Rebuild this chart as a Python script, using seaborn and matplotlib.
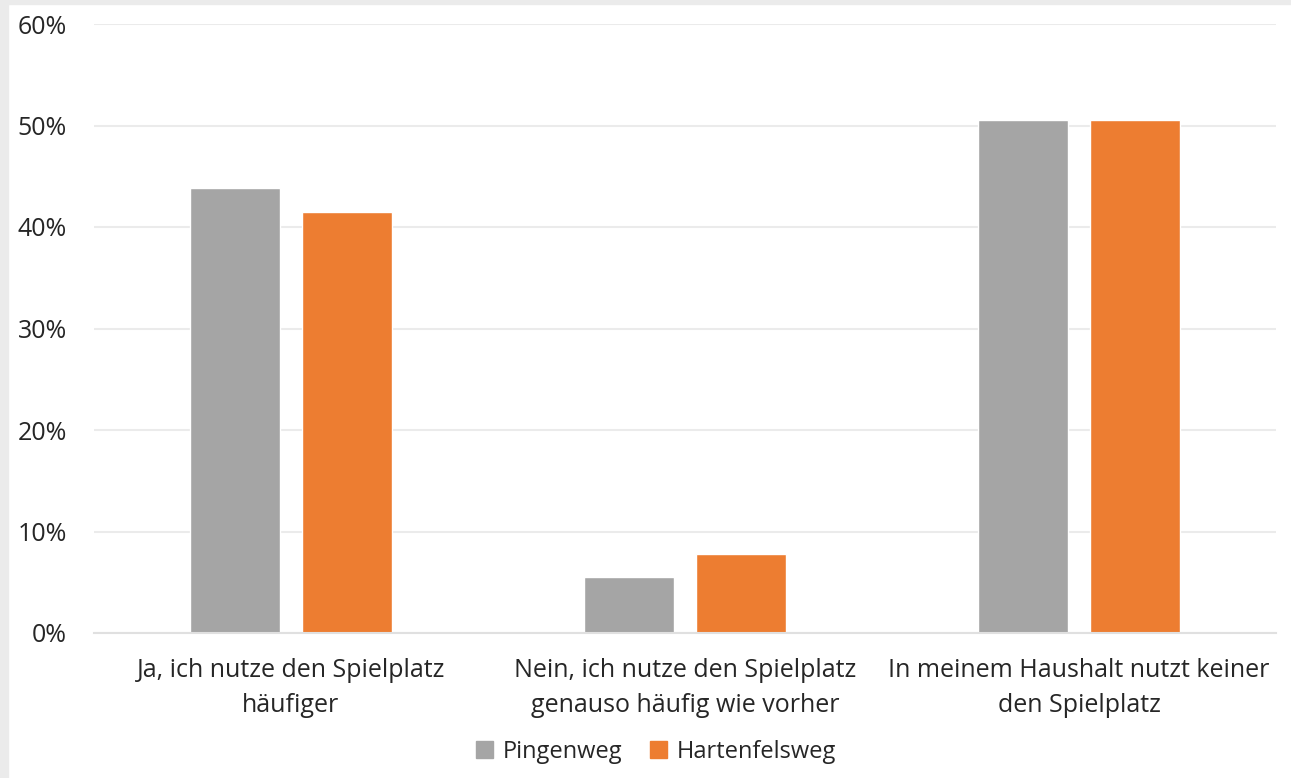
import pandas as pd
import matplotlib.pyplot as plt
import seaborn as sns
from matplotlib.patches import Rectangle
from matplotlib.ticker import PercentFormatter

# data
categories = ['Ja, ich nutze den Spielplatz\nhäufiger',
              'Nein, ich nutze den Spielplatz\ngenauso häufig wie vorher',
              'In meinem Haushalt nutzt keiner\nden Spielplatz']
pingenweg = [43.8, 5.5, 50.5]
hartenfelsweg = [41.5, 7.8, 50.5]
series_names = ['Pingenweg', 'Hartenfelsweg']
colors = ['#a5a5a5', '#ed7d31']

df = pd.DataFrame({
    'Kategorie': categories * 2,
    'Anteil': pingenweg + hartenfelsweg,
    'Strasse': [series_names[0]] * 3 + [series_names[1]] * 3,
})

sns.set_style('white')
plt.rcParams['font.family'] = ['Open Sans', 'DejaVu Sans']

fig = plt.figure(figsize=(12.91, 7.78), dpi=100)
ax = fig.add_axes([94 / 1291, 1 - 633 / 778, (1276 - 94) / 1291, (633 - 24) / 778])

sns.barplot(data=df, x='Kategorie', y='Anteil', hue='Strasse',
            palette=colors, saturation=1, width=0.57, gap=0.2, ax=ax, legend=False)

ax.set_ylim(0, 60)
ax.set_yticks(range(0, 61, 10))
ax.yaxis.set_major_formatter(PercentFormatter(decimals=0))
ax.grid(axis='y', color='#ebebeb', linewidth=1.5)
ax.set_axisbelow(True)
for s in ['top', 'right', 'left']:
    ax.spines[s].set_visible(False)
ax.spines['bottom'].set_color('#e0e0e0')
ax.spines['bottom'].set_linewidth(1.5)
ax.tick_params(axis='both', length=0, labelsize=18, colors='#262626')
ax.tick_params(axis='x', pad=18)
ax.tick_params(axis='y', pad=19.5)
for lbl in ax.get_xticklabels():
    lbl.set_linespacing(1.53)
ax.set_xlabel('')
ax.set_ylabel('')

handles = [Rectangle((0, 0), 1, 1, color=c) for c in colors]
fig.legend(handles, series_names, loc='center', bbox_to_anchor=(656 / 1291, 1 - 752 / 778),
           ncol=2, frameon=False, fontsize=17, handlelength=0.7, handleheight=0.7,
           handletextpad=0.4, columnspacing=1.2, labelcolor='#262626')

# light gray frame on left and top edges
fig.patches.append(Rectangle((0, 0), 8 / 1291, 1, transform=fig.transFigure,
                             color='#ebebeb', zorder=-1))
fig.patches.append(Rectangle((0, 1 - 4 / 778), 1, 4 / 778, transform=fig.transFigure,
                             color='#ebebeb', zorder=-1))

fig.savefig('out.png', dpi=100, facecolor='white')
